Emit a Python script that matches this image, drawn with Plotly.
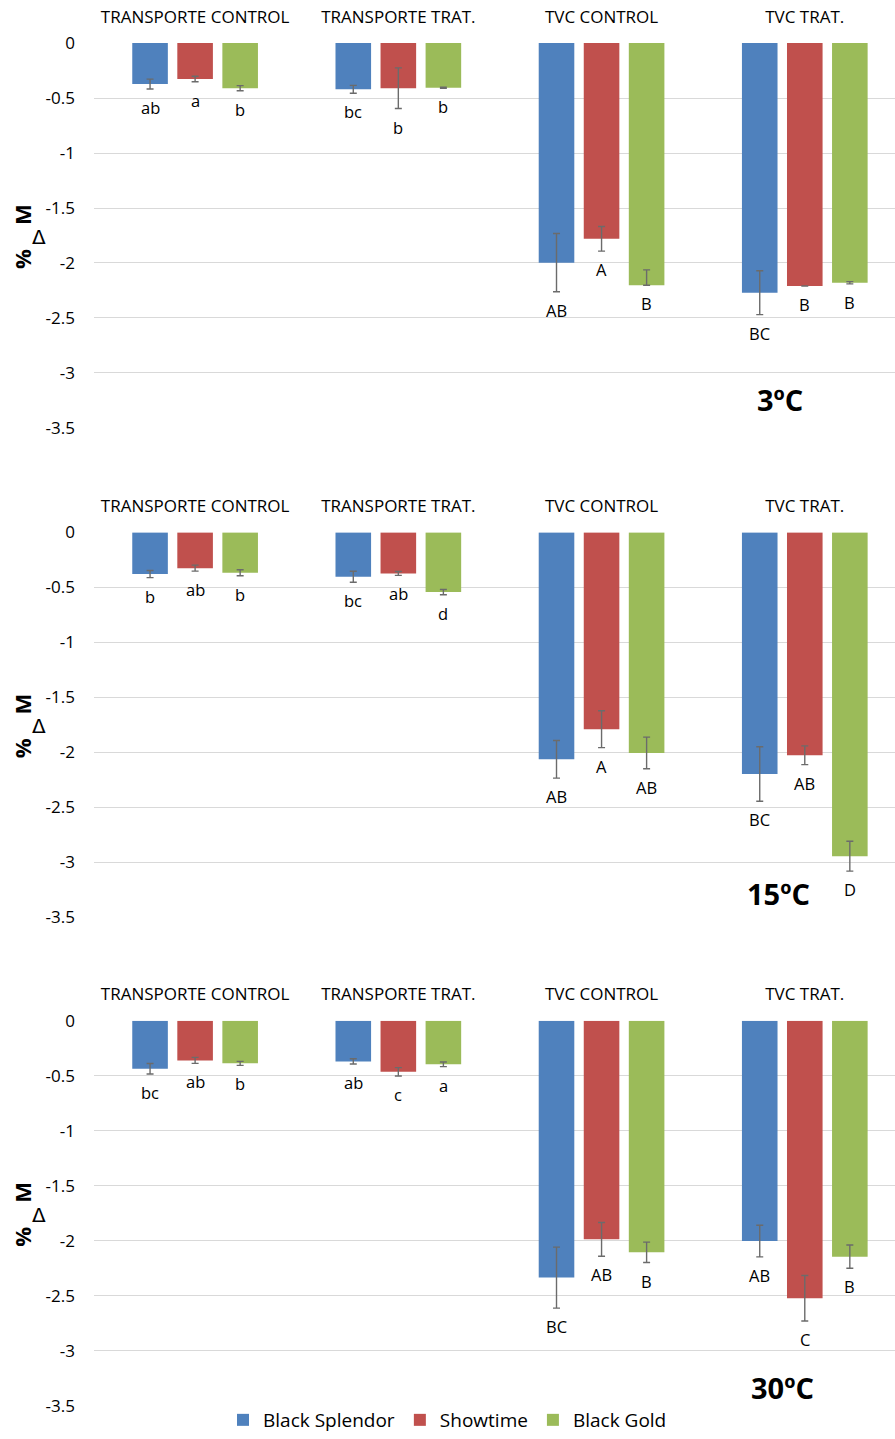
import plotly.graph_objects as go

# ---------------- data ----------------
categories = ["TRANSPORTE CONTROL", "TRANSPORTE TRAT.", "TVC CONTROL", "TVC TRAT."]
series_names = ["Black Splendor", "Showtime", "Black Gold"]
series_colors = ["#4F81BD", "#C0504D", "#9BBB59"]
panel_titles = ["3ºC", "15ºC", "30ºC"]
ytick_vals = [0, -0.5, -1, -1.5, -2, -2.5, -3, -3.5]
ytick_text = ["0", "-0.5", "-1", "-1.5", "-2", "-2.5", "-3", "-3.5"]

# 3ºC
bs_3 = [-0.373, -0.420, -1.997, -2.270]
sh_3 = [-0.327, -0.410, -1.780, -2.210]
bg_3 = [-0.410, -0.405, -2.203, -2.180]
bs_3_err_up = [0.045, 0.036, 0.265, 0.200]
bs_3_err_dn = [0.045, 0.036, 0.265, 0.200]
sh_3_err_up = [0.025, 0.185, 0.112, 0.000]
sh_3_err_dn = [0.025, 0.185, 0.112, 0.000]
bg_3_err_up = [0.023, 0.005, 0.140, 0.010]
bg_3_err_dn = [0.023, 0.005, 0.000, 0.010]
bs_3_lbl = ["ab", "bc", "AB", "BC"]
sh_3_lbl = ["a", "b", "A", "B"]
bg_3_lbl = ["b", "b", "B", "B"]

# 15ºC
bs_15 = [-0.379, -0.403, -2.064, -2.197]
sh_15 = [-0.325, -0.373, -1.790, -2.027]
bg_15 = [-0.367, -0.543, -2.006, -2.945]
bs_15_err = [0.032, 0.050, 0.171, 0.248]
sh_15_err = [0.027, 0.018, 0.168, 0.085]
bg_15_err = [0.027, 0.024, 0.144, 0.136]
bs_15_lbl = ["b", "bc", "AB", "BC"]
sh_15_lbl = ["ab", "ab", "A", "AB"]
bg_15_lbl = ["b", "d", "AB", "D"]

# 30ºC
bs_30 = [-0.436, -0.369, -2.336, -2.003]
sh_30 = [-0.360, -0.464, -1.988, -2.524]
bg_30 = [-0.387, -0.396, -2.106, -2.145]
bs_30_err = [0.048, 0.024, 0.277, 0.144]
sh_30_err = [0.027, 0.038, 0.153, 0.207]
bg_30_err = [0.018, 0.021, 0.093, 0.106]
bs_30_lbl = ["bc", "ab", "BC", "AB"]
sh_30_lbl = ["ab", "c", "AB", "C"]
bg_30_lbl = ["b", "a", "B", "B"]

panels = [
    {"vals": [bs_3, sh_3, bg_3],
     "up": [bs_3_err_up, sh_3_err_up, bg_3_err_up],
     "dn": [bs_3_err_dn, sh_3_err_dn, bg_3_err_dn],
     "lbl": [bs_3_lbl, sh_3_lbl, bg_3_lbl]},
    {"vals": [bs_15, sh_15, bg_15],
     "up": [bs_15_err, sh_15_err, bg_15_err],
     "dn": [bs_15_err, sh_15_err, bg_15_err],
     "lbl": [bs_15_lbl, sh_15_lbl, bg_15_lbl]},
    {"vals": [bs_30, sh_30, bg_30],
     "up": [bs_30_err, sh_30_err, bg_30_err],
     "dn": [bs_30_err, sh_30_err, bg_30_err],
     "lbl": [bs_30_lbl, sh_30_lbl, bg_30_lbl]},
]

# ---------------- layout constants ----------------
W, H = 895, 1439
FONT = "Open Sans"
BARGAP = 0.335
BARGROUPGAP = 0.21
slot = (1 - BARGAP) / 3
x_pos = list(range(len(categories)))

# pixel extents of each plot area (top, bottom)
panel_px = [(43, 428), (532.3, 917.3), (1020.7, 1405.7)]
title_pos = [(780, 0.073), (778, 0.063), (782, 0.046)]

fig = go.Figure()
annotations = []

for p, panel in enumerate(panels):
    ax = "" if p == 0 else str(p + 1)
    for k in range(3):
        fig.add_trace(go.Bar(
            x=x_pos, y=panel["vals"][k],
            name=series_names[k],
            marker=dict(color=series_colors[k], line=dict(width=0)),
            error_y=dict(type="data", symmetric=False,
                         array=panel["up"][k], arrayminus=panel["dn"][k],
                         color="#6b6b6b", thickness=1.4, width=3.5),
            xaxis="x" + ax, yaxis="y" + ax,
            legendgroup=series_names[k], showlegend=(p == 0),
        ))
        for i in x_pos:
            annotations.append(dict(
                x=i + (k - 1) * slot,
                y=panel["vals"][k][i] - panel["dn"][k][i],
                xref="x" + ax, yref="y" + ax,
                text=panel["lbl"][k][i], showarrow=False,
                xanchor="center", yanchor="top", yshift=-5,
                font=dict(family=FONT, size=16.5, color="#000000"),
            ))
    # temperature label
    tx, ty = title_pos[p]
    annotations.append(dict(
        x=tx / W, y=ty, xref="paper", yref="y" + ax + " domain",
        text="<b>" + panel_titles[p] + "</b>", showarrow=False,
        xanchor="center", yanchor="middle",
        font=dict(family=FONT, size=29, color="#000000"),
    ))
    # y-axis title %ΔM
    annotations.append(dict(
        x=22 / W, y=0.439, xref="paper", yref="y" + ax + " domain",
        text="<b>%</b>", showarrow=False, textangle=-90,
        xanchor="center", yanchor="middle",
        font=dict(family=FONT, size=22, color="#000000"),
    ))
    annotations.append(dict(
        x=22 / W, y=0.553, xref="paper", yref="y" + ax + " domain",
        text="<b>M</b>", showarrow=False, textangle=-90,
        xanchor="center", yanchor="middle",
        font=dict(family=FONT, size=22, color="#000000"),
    ))
    annotations.append(dict(
        x=39 / W, y=0.496, xref="paper", yref="y" + ax + " domain",
        text="Δ", showarrow=False,
        xanchor="center", yanchor="middle",
        font=dict(family="DejaVu Sans", size=20, color="#000000"),
    ))

    top, bot = panel_px[p]
    fig.layout["xaxis" + ax] = dict(
        domain=[94 / W, 1.0], anchor="y" + ax, side="top",
        range=[-0.4975, (895 - 195.3) / 203.17],
        tickvals=x_pos, ticktext=categories, ticks="",
        ticklabelstandoff=16, automargin=False,
        showgrid=False, zeroline=False, showline=False,
        tickfont=dict(family=FONT, size=17, color="#000000"),
    )
    fig.layout["yaxis" + ax] = dict(
        domain=[(H - bot) / H, (H - top) / H], anchor="x" + ax,
        range=[-3.501, 0.001],
        tickvals=ytick_vals, ticktext=ytick_text, ticks="",
        ticklabelstandoff=18, automargin=False,
        showgrid=True, gridcolor="#d9d9d9", gridwidth=1,
        zeroline=False, showline=False,
        tickfont=dict(family=FONT, size=17, color="#000000"),
    )

fig.update_layout(
    width=W, height=H,
    margin=dict(l=0, r=0, t=0, b=0, autoexpand=False),
    paper_bgcolor="white", plot_bgcolor="white",
    barmode="group", bargap=BARGAP, bargroupgap=BARGROUPGAP,
    showlegend=True,
    legend=dict(orientation="h", x=0.5, xanchor="center",
                y=0, yanchor="bottom",
                font=dict(family=FONT, size=19, color="#000000"),
                itemclick=False, tracegroupgap=0, itemwidth=30,
                borderwidth=0),
    annotations=annotations,
)

fig.write_html("out.html")
